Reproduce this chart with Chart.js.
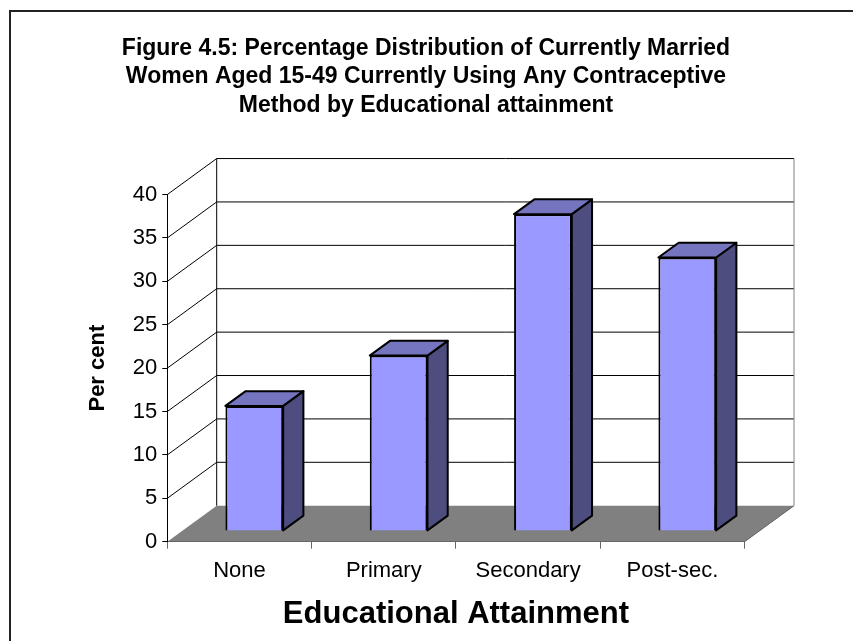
<!DOCTYPE html>
<html>
<head>
<meta charset="utf-8">
<script src="https://cdn.jsdelivr.net/npm/chart.js@4/dist/chart.umd.min.js"></script>
<style>
  html, body { margin: 0; padding: 0; background: #fff; }
  #wrap { width: 853px; height: 641px; }
</style>
</head>
<body>
<div id="wrap"><canvas id="chart" width="853" height="641"></canvas></div>
<script>
const titleLines = [
  'Figure 4.5: Percentage Distribution of Currently Married',
  'Women Aged 15-49 Currently Using Any Contraceptive',
  'Method by Educational attainment'
];
const categories = ['None', 'Primary', 'Secondary', 'Post-sec.'];
const percentages = [14.4, 20.2, 36.5, 31.5];
const yMin = 0;
const yMax = 40;
const yStep = 5;

const FONT = "'Liberation Sans', Arial, sans-serif";

// oblique 3d offset of the floor / back wall, in pixels
const depth = { dx: 49.4, dy: -36 };
// bars sit between these fractions of the floor depth
const barDepth = { front: 0.3, back: 0.71 };

function poly(ctx, pts) {
  ctx.beginPath();
  ctx.moveTo(pts[0][0], pts[0][1]);
  for (let i = 1; i < pts.length; i++) ctx.lineTo(pts[i][0], pts[i][1]);
  ctx.closePath();
}

const walls3d = {
  id: 'walls3d',
  afterLayout(chart) {
    // the title in the original is centred over the plot, not the canvas
    const tb = chart.titleBlock;
    if (tb) {
      tb.left = 107;
      tb.right = 745;
    }
  },
  beforeDraw(chart) {
    const { ctx, chartArea: a, scales } = chart;
    const y = scales.y;
    const x0 = a.left;
    const x1 = a.right;
    const yb = y.getPixelForValue(yMin);
    const yt = y.getPixelForValue(yMax);
    ctx.save();

    // outer frame
    ctx.strokeStyle = '#222';
    ctx.lineWidth = 2;
    ctx.strokeRect(10, 11, 900, 700);

    // floor
    ctx.fillStyle = '#808080';
    poly(ctx, [[x0, yb], [x1, yb], [x1 + depth.dx, yb + depth.dy], [x0 + depth.dx, yb + depth.dy]]);
    ctx.fill();
    ctx.strokeStyle = '#606060';
    ctx.lineWidth = 1;
    ctx.beginPath();
    ctx.moveTo(x1, yb);
    ctx.lineTo(x1 + depth.dx, yb + depth.dy);
    ctx.stroke();

    // back wall grid and side wall diagonals
    ctx.strokeStyle = '#000';
    ctx.lineWidth = 1;
    y.ticks.forEach((t) => {
      if (t.value === yMin) return;
      const py = y.getPixelForValue(t.value);
      ctx.beginPath();
      ctx.moveTo(x0, py);
      ctx.lineTo(x0 + depth.dx, py + depth.dy);
      ctx.lineTo(x1 + depth.dx, py + depth.dy);
      ctx.stroke();
    });
    ctx.beginPath();
    ctx.moveTo(x0 + depth.dx, yt + depth.dy);
    ctx.lineTo(x0 + depth.dx, yb + depth.dy);
    ctx.stroke();
    ctx.strokeStyle = '#808080';
    ctx.beginPath();
    ctx.moveTo(x1 + depth.dx, yt + depth.dy);
    ctx.lineTo(x1 + depth.dx, yb + depth.dy);
    ctx.stroke();
    ctx.restore();
  },
  beforeDatasetsDraw(chart) {
    chart.ctx.save();
    chart.ctx.translate(depth.dx * barDepth.front, depth.dy * barDepth.front);
  },
  afterDatasetsDraw(chart) {
    const ctx = chart.ctx;
    ctx.restore();
    const ox = depth.dx * barDepth.front;
    const oy = depth.dy * barDepth.front;
    const bx = depth.dx * (barDepth.back - barDepth.front);
    const by = depth.dy * (barDepth.back - barDepth.front);
    ctx.save();
    ctx.lineWidth = 2;
    ctx.lineJoin = 'round';
    ctx.strokeStyle = '#000';
    chart.getDatasetMeta(0).data.forEach((bar) => {
      const p = bar.getProps(['x', 'y', 'base', 'width'], true);
      const l = p.x - p.width / 2 + ox;
      const r = p.x + p.width / 2 + ox;
      const top = p.y + oy;
      const bottom = p.base + oy;
      // side face
      ctx.fillStyle = '#4d4d80';
      poly(ctx, [[r, top], [r + bx, top + by], [r + bx, bottom + by], [r, bottom]]);
      ctx.fill();
      ctx.stroke();
      // top face
      ctx.fillStyle = '#7474bf';
      poly(ctx, [[l, top], [l + bx, top + by], [r + bx, top + by], [r, top]]);
      ctx.fill();
      ctx.stroke();
    });
    ctx.restore();
  }
};

new Chart(document.getElementById('chart'), {
  type: 'bar',
  data: {
    labels: categories,
    datasets: [
      {
        label: 'Per cent',
        data: percentages,
        backgroundColor: '#9999ff',
        borderColor: '#000',
        borderWidth: 2,
        barPercentage: 0.4,
        categoryPercentage: 1,
        clip: false,
      },
    ],
  },
  options: {
    responsive: false,
    animation: false,
    events: [],
    layout: {
      padding: { top: 0, left: 0, right: 108.4, bottom: 0 },
    },
    plugins: {
      legend: { display: false },
      tooltip: { enabled: false },
      title: {
        display: true,
        text: titleLines,
        color: '#000',
        font: { family: FONT, size: 23, weight: 'bold', lineHeight: 1.24 },
        padding: { top: 34, bottom: 75 },
      },
    },
    scales: {
      x: {
        afterFit(scale) {
          scale.height = 99.3;
        },
        grid: {
          offset: true,
          drawOnChartArea: false,
          drawTicks: true,
          tickLength: 7,
          color: '#666',
        },
        border: { display: true, color: '#666', width: 1 },
        ticks: {
          color: '#000',
          padding: 9,
          font: { family: FONT, size: 22 },
        },
        title: {
          display: true,
          text: 'Educational Attainment',
          color: '#000',
          font: { family: FONT, size: 31, weight: 'bold' },
          padding: { top: 0, bottom: 8 },
        },
      },
      y: {
        min: yMin,
        max: yMax,
        afterFit(scale) {
          scale.width = 167.3;
        },
        grid: {
          drawOnChartArea: false,
          drawTicks: true,
          tickLength: 5,
          color: '#000',
        },
        border: { display: true, color: '#000', width: 1 },
        ticks: {
          stepSize: yStep,
          color: '#000',
          padding: 5,
          font: { family: FONT, size: 22 },
        },
        title: {
          display: true,
          text: 'Per cent',
          color: '#000',
          font: { family: FONT, size: 22, weight: 'bold' },
          padding: { top: 85, bottom: 0 },
        },
      },
    },
  },
  plugins: [walls3d],
});
</script>
</body>
</html>
